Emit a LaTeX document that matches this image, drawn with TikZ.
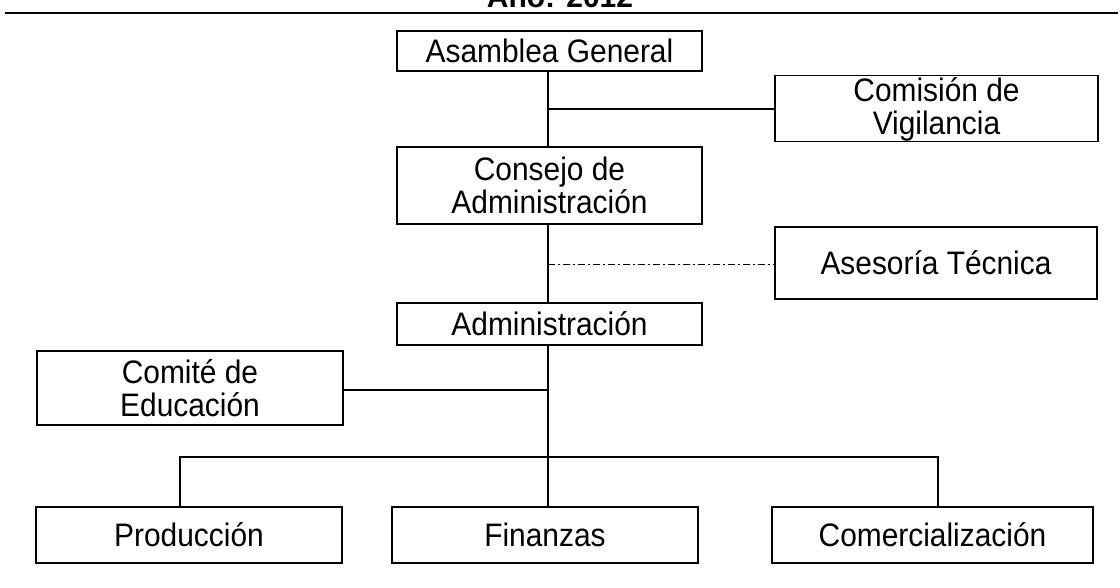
\documentclass[tikz,border=0pt]{standalone}
\usepackage{fontspec}
\setmainfont{Liberation Sans}
\newfontfamily\boxfont[FakeStretch=0.92]{Liberation Sans}
\begin{document}
\begin{tikzpicture}[x=1pt,y=-1pt,
  box/.style={draw,line width=1.3pt,minimum height=#1,align=center,inner sep=0pt,font=\boxfont\fontsize{32.5}{33}\selectfont},
  box/.default=38,
  ln/.style={line width=1.2pt}]
\useasboundingbox (0,0) rectangle (1120,588);
\node[font=\bfseries\fontsize{30}{34}\selectfont,anchor=base] (title) at (560,8) {Año: 2012};
\draw[line width=2pt] (5,13) coordinate (r1) -- (1118,13) coordinate (r2);
\node[box=40,minimum width=305] (asam) at (549.5,51) {Asamblea General};
\node[box=64,minimum width=323] (comis) at (936.5,108.5) {\rule{0pt}{26pt}Comisión de\\Vigilancia};
\node[box=77,minimum width=305] (cons) at (549.5,185.5) {Consejo de\\Administración};
\node[box=72,minimum width=322] (ases) at (936,263) {Asesoría Técnica};
\node[box=42,minimum width=305] (adm) at (549.5,324) {Administración};
\node[box=74,minimum width=306] (comite) at (190,388) {Comité de\\Educación};
\node[box=56,minimum width=306] (prod) at (189,535) {Producción};
\node[box=56,minimum width=306] (fin) at (545,535) {Finanzas};
\node[box=56,minimum width=321] (comer) at (932.5,535) {Comercialización};
\coordinate (t1) at (548,109);
\coordinate (t2) at (548,264);
\coordinate (t3) at (548,390);
\coordinate (t4) at (548,457);
\coordinate (bl) at (180,457);
\coordinate (br) at (938,457);
\draw[ln] (asam.south -| t1) -- (cons.north -| t1);
\draw[ln] (t1) -- (comis.west |- t1);
\draw[ln] (cons.south -| t2) -- (adm.north -| t2);
\draw[line width=0.9pt,dash pattern=on 7pt off 3pt on 2pt off 3pt] (t2) -- (ases.west |- t2);
\draw[ln] (adm.south -| t3) -- (fin.north -| t3);
\draw[ln] (comite.east |- t3) -- (t3);
\draw[ln] (prod.north -| bl) -- (bl) -- (br) -- (comer.north -| br);
\end{tikzpicture}
\end{document}
